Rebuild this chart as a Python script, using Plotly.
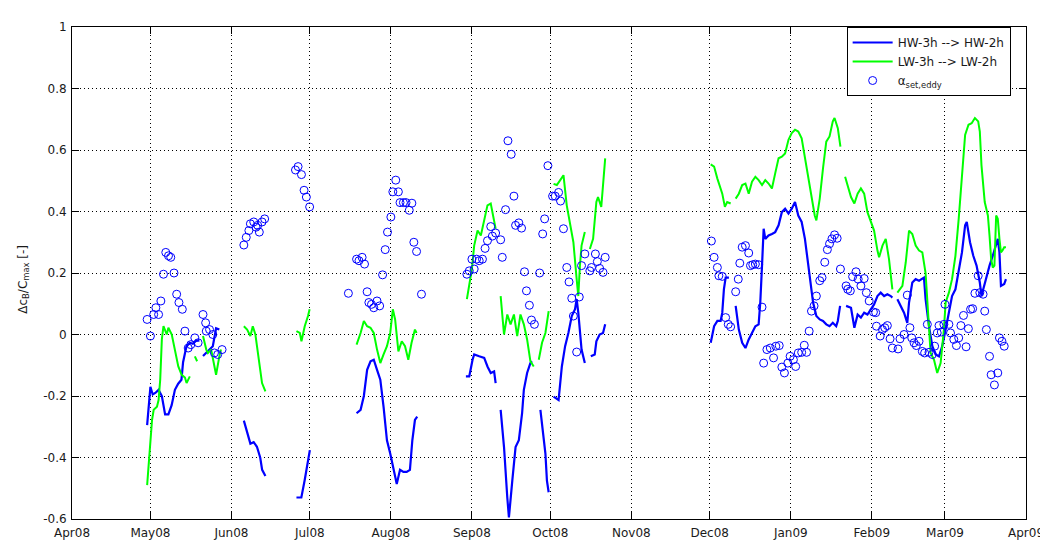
import plotly.graph_objects as go

# ---------------- data ----------------
month_ticks = ["2008-04-01", "2008-05-01", "2008-06-01", "2008-07-01", "2008-08-01", "2008-09-01",
               "2008-10-01", "2008-11-01", "2008-12-01", "2009-01-01", "2009-02-01", "2009-03-01", "2009-04-01"]
month_labels = ["Apr08", "May08", "Jun08", "Jul08", "Aug08", "Sep08", "Oct08", "Nov08",
                "Dec08", "Jan09", "Feb09", "Mar09", "Apr09"]
y_ticks = [-0.6, -0.4, -0.2, 0, 0.2, 0.4, 0.6, 0.8, 1]
y_labels = ["-0.6", "-0.4", "-0.2", "0", "0.2", "0.4", "0.6", "0.8", "1"]

# HW-3h --> HW-2h  (None = gap in the record)
hw_dates = [
    "2008-04-29 18:00", "2008-04-30 09:00", "2008-05-01 00:00", "2008-05-01 21:00", "2008-05-02 21:00", "2008-05-04 03:00", "2008-05-05 09:00", "2008-05-06 15:00", "2008-05-07 21:00", "2008-05-09 03:00", "2008-05-10 09:00", "2008-05-11 15:00", "2008-05-12 21:00", "2008-05-13 12:00", "2008-05-14 18:00", "2008-05-16 00:00", "2008-05-17 06:00", "2008-05-18 12:00", "2008-05-19 18:00", None,
    "2008-05-21 03:00", "2008-05-22 09:00", "2008-05-23 15:00", "2008-05-24 21:00", "2008-05-26 03:00", "2008-05-27 09:00", None,
    "2008-06-05 18:00", "2008-06-07 00:00", "2008-06-08 06:00", "2008-06-09 12:00", "2008-06-10 18:00", "2008-06-12 00:00", "2008-06-12 18:00", "2008-06-14 00:00", None,
    "2008-06-25 21:00", "2008-06-27 18:00", "2008-06-29 00:00", "2008-06-30 06:00", "2008-07-01 00:00", None,
    "2008-07-18 21:00", "2008-07-20 10:00", "2008-07-21 16:00", "2008-07-22 22:00", "2008-07-24 05:00", "2008-07-25 11:00", "2008-07-26 17:00", "2008-07-27 23:00", "2008-07-29 05:00", "2008-07-30 12:00", "2008-07-31 18:00", "2008-08-02 00:00", "2008-08-03 06:00", "2008-08-04 12:00", "2008-08-05 19:00", "2008-08-07 01:00", "2008-08-08 07:00", "2008-08-09 05:00", "2008-08-10 05:00", "2008-08-11 02:00", None,
    "2008-08-29 17:00", "2008-08-31 00:00", "2008-09-01 06:00", "2008-09-01 21:00", "2008-09-03 19:00", "2008-09-05 17:00", "2008-09-06 23:00", "2008-09-08 05:00", "2008-09-09 12:00", "2008-09-10 02:00", None,
    "2008-09-12 00:00", "2008-09-13 07:00", "2008-09-14 13:00", "2008-09-15 04:00", "2008-09-16 11:00", "2008-09-17 17:00", "2008-09-18 23:00", "2008-09-20 05:00", "2008-09-20 21:00", "2008-09-22 03:00", "2008-09-23 09:00", "2008-09-24 00:00", None,
    "2008-09-27 05:00", "2008-09-28 11:00", "2008-09-29 03:00", "2008-09-29 17:00", "2008-09-30 09:00", None,
    "2008-10-02 06:00", "2008-10-04 04:00", "2008-10-05 10:00", "2008-10-06 16:00", "2008-10-07 22:00", "2008-10-09 05:00", "2008-10-10 11:00", "2008-10-11 02:00", "2008-10-11 17:00", "2008-10-12 08:00", "2008-10-12 23:00", "2008-10-14 05:00", None,
    "2008-10-16 12:00", "2008-10-18 00:00", "2008-10-18 15:00", "2008-10-19 21:00", "2008-10-21 04:00", "2008-10-22 00:00", None,
    "2008-12-01 09:00", "2008-12-02 16:00", "2008-12-03 22:00", "2008-12-05 04:00", "2008-12-05 19:00", "2008-12-06 10:00", "2008-12-07 02:00", "2008-12-08 08:00", None,
    "2008-12-10 22:00", "2008-12-12 03:00", "2008-12-13 10:00", "2008-12-14 16:00", "2008-12-15 22:00", "2008-12-17 04:00", "2008-12-18 11:00", "2008-12-19 17:00", "2008-12-20 08:00", "2008-12-21 00:00", "2008-12-21 15:00", "2008-12-22 06:00", "2008-12-23 12:00", "2008-12-24 19:00", "2008-12-26 01:00", "2008-12-27 08:00", "2008-12-28 14:00", "2008-12-29 20:00", "2008-12-31 03:00", "2009-01-01 09:00", "2009-01-02 15:00", "2009-01-03 21:00", "2009-01-05 04:00", "2009-01-06 10:00", "2009-01-07 16:00", "2009-01-08 22:00", "2009-01-09 13:00", "2009-01-10 19:00", "2009-01-12 02:00", "2009-01-13 08:00", "2009-01-14 14:00", "2009-01-15 20:00", "2009-01-17 02:00", "2009-01-18 09:00", "2009-01-19 00:00", "2009-01-19 21:00", None,
    "2009-01-22 04:00", "2009-01-24 01:00", "2009-01-25 08:00", "2009-01-26 14:00", "2009-01-27 20:00", "2009-01-29 02:00", "2009-01-30 08:00", "2009-01-31 14:00", "2009-02-01 21:00", "2009-02-03 04:00", "2009-02-04 10:00", "2009-02-05 17:00", "2009-02-06 23:00", "2009-02-08 06:00", "2009-02-08 21:00", None,
    "2009-02-10 19:00", "2009-02-12 02:00", "2009-02-13 08:00", "2009-02-14 14:00", "2009-02-15 06:00", "2009-02-16 12:00", "2009-02-17 19:00", "2009-02-19 02:00", "2009-02-20 08:00", "2009-02-20 23:00", "2009-02-21 14:00", "2009-02-22 21:00", "2009-02-24 04:00", "2009-02-25 10:00", "2009-02-26 17:00", "2009-02-27 23:00", "2009-03-01 06:00", "2009-03-02 12:00", "2009-03-03 17:00", "2009-03-05 00:00", "2009-03-06 06:00", "2009-03-07 12:00", "2009-03-08 17:00", "2009-03-09 08:00", "2009-03-10 14:00", "2009-03-11 20:00", "2009-03-13 02:00", "2009-03-14 08:00", "2009-03-14 23:00", "2009-03-15 14:00", "2009-03-16 20:00", "2009-03-18 01:00", "2009-03-19 07:00", "2009-03-20 14:00", "2009-03-21 05:00", "2009-03-21 20:00", "2009-03-22 10:00", "2009-03-23 16:00", "2009-03-24 08:00",
]
hw_values = [
    -0.295, -0.235, -0.17, -0.195, -0.19, -0.18, -0.20, -0.26, -0.26, -0.23, -0.18, -0.16, -0.147, -0.09, -0.04, -0.027, -0.03, -0.02, -0.02, None,
    -0.07, -0.06, -0.05, -0.038, 0.02, 0.016, None,
    -0.28, -0.32, -0.355, -0.35, -0.365, -0.40, -0.44, -0.46, None,
    -0.53, -0.53, -0.475, -0.41, -0.376, None,
    -0.256, -0.245, -0.20, -0.115, -0.087, -0.082, -0.115, -0.147, -0.235, -0.344, -0.387, -0.44, -0.486, -0.44, -0.447, -0.447, -0.44, -0.344, -0.278, -0.267, None,
    -0.136, -0.136, -0.082, -0.065, -0.071, -0.076, -0.104, -0.125, -0.12, -0.158, None,
    -0.245, -0.366, -0.53, -0.595, -0.475, -0.366, -0.344, -0.256, -0.18, -0.125, -0.093, -0.087, None,
    -0.245, -0.344, -0.387, -0.475, -0.513, None,
    -0.202, -0.213, -0.104, -0.038, 0.005, 0.06, 0.082, 0.115, 0.071, 0.005, -0.049, -0.093, None,
    -0.071, -0.065, -0.022, 0.0, 0.005, 0.033, None,
    -0.027, 0.027, 0.044, 0.044, 0.071, 0.147, 0.185, 0.185, None,
    0.093, 0.016, -0.027, -0.044, -0.016, 0.005, 0.027, 0.033, 0.104, 0.224, 0.344, 0.311, 0.322, 0.327, 0.333, 0.355, 0.398, 0.409, 0.393, 0.409, 0.431, 0.387, 0.366, 0.311, 0.224, 0.136, 0.104, 0.06, 0.049, 0.044, 0.033, 0.027, 0.038, 0.027, 0.044, 0.093, None,
    0.093, 0.087, 0.022, 0.065, 0.055, 0.071, 0.065, 0.082, 0.098, 0.125, 0.136, 0.125, 0.131, 0.125, 0.12, None,
    0.115, 0.093, 0.071, 0.038, 0.104, 0.169, 0.18, 0.175, 0.18, 0.185, 0.115, 0.027, -0.038, -0.065, -0.071, -0.038, 0.016, 0.071, 0.125, 0.147, 0.202, 0.267, 0.355, 0.366, 0.30, 0.256, 0.224, 0.169, 0.125, 0.147, 0.191, 0.224, 0.256, 0.289, 0.311, 0.267, 0.158, 0.164, 0.18,
]

# LW-3h --> LW-2h
lw_dates = [
    "2008-04-29 18:00", "2008-04-30 09:00", "2008-05-01 00:00", "2008-05-01 15:00", "2008-05-02 06:00", "2008-05-03 12:00", "2008-05-04 03:00", "2008-05-04 18:00", "2008-05-05 09:00", "2008-05-06 00:00", "2008-05-07 06:00", "2008-05-07 21:00", "2008-05-09 04:00", "2008-05-10 10:00", "2008-05-11 16:00", "2008-05-12 23:00", "2008-05-14 05:00", "2008-05-14 20:00", "2008-05-16 02:00", None,
    "2008-05-18 00:00", "2008-05-18 21:00", None,
    "2008-05-21 03:00", "2008-05-22 09:00", "2008-05-23 00:00", "2008-05-24 06:00", "2008-05-25 12:00", "2008-05-26 03:00", "2008-05-27 09:00", "2008-05-28 00:00", None,
    "2008-06-05 18:00", "2008-06-07 00:00", "2008-06-08 06:00", "2008-06-09 04:00", "2008-06-10 04:00", "2008-06-11 10:00", "2008-06-12 17:00", "2008-06-14 00:00", None,
    "2008-06-25 21:00", "2008-06-27 04:00", "2008-06-27 19:00", "2008-06-29 01:00", "2008-06-30 07:00", "2008-06-30 22:00", None,
    "2008-07-18 21:00", "2008-07-20 10:00", "2008-07-21 16:00", "2008-07-22 22:00", "2008-07-24 05:00", "2008-07-25 11:00", "2008-07-26 17:00", "2008-07-27 23:00", "2008-07-29 05:00", "2008-07-30 12:00", "2008-07-31 18:00", "2008-08-01 18:00", "2008-08-02 15:00", "2008-08-03 21:00", "2008-08-05 04:00", "2008-08-06 10:00", "2008-08-07 16:00", "2008-08-08 22:00", "2008-08-10 05:00", "2008-08-10 20:00", None,
    "2008-08-30 02:00", "2008-08-31 00:00", "2008-09-01 00:00", "2008-09-01 21:00", "2008-09-03 04:00", "2008-09-04 10:00", "2008-09-05 17:00", "2008-09-06 23:00", "2008-09-08 05:00", "2008-09-09 12:00", "2008-09-10 02:00", None,
    "2008-09-12 00:00", "2008-09-13 07:00", "2008-09-14 13:00", "2008-09-15 19:00", "2008-09-17 02:00", "2008-09-18 08:00", "2008-09-19 14:00", "2008-09-20 21:00", "2008-09-22 03:00", "2008-09-23 09:00", "2008-09-24 16:00", None,
    "2008-09-26 14:00", "2008-09-27 20:00", "2008-09-29 03:00", "2008-09-30 09:00", None,
    "2008-10-02 06:00", "2008-10-03 12:00", "2008-10-04 19:00", "2008-10-06 01:00", "2008-10-07 07:00", "2008-10-08 13:00", "2008-10-09 20:00", "2008-10-11 02:00", "2008-10-11 17:00", "2008-10-12 08:00", "2008-10-12 23:00", "2008-10-14 05:00", None,
    "2008-10-16 03:00", "2008-10-17 09:00", "2008-10-18 15:00", "2008-10-19 06:00", "2008-10-20 12:00", "2008-10-21 04:00", "2008-10-22 00:00", None,
    "2008-12-01 09:00", "2008-12-02 16:00", "2008-12-03 22:00", "2008-12-05 04:00", "2008-12-05 19:00", "2008-12-06 19:00", "2008-12-07 16:00", "2008-12-09 00:00", None,
    "2008-12-10 22:00", "2008-12-12 03:00", "2008-12-13 10:00", "2008-12-14 16:00", "2008-12-15 22:00", "2008-12-17 04:00", "2008-12-18 11:00", "2008-12-19 17:00", "2008-12-21 00:00", "2008-12-22 06:00", "2008-12-23 12:00", "2008-12-24 19:00", "2008-12-26 01:00", "2008-12-27 08:00", "2008-12-28 14:00", "2008-12-29 20:00", "2008-12-31 03:00", "2009-01-01 09:00", "2009-01-02 15:00", "2009-01-03 21:00", "2009-01-05 04:00", "2009-01-06 10:00", "2009-01-07 16:00", "2009-01-08 22:00", "2009-01-10 04:00", "2009-01-10 19:00", "2009-01-12 02:00", "2009-01-13 08:00", "2009-01-14 14:00", "2009-01-15 20:00", "2009-01-17 02:00", "2009-01-17 18:00", "2009-01-19 00:00", "2009-01-20 00:00", None,
    "2009-01-21 19:00", "2009-01-22 19:00", "2009-01-24 01:00", "2009-01-25 08:00", "2009-01-26 14:00", "2009-01-27 20:00", "2009-01-29 02:00", "2009-01-30 08:00", "2009-01-31 14:00", "2009-02-01 21:00", "2009-02-03 04:00", "2009-02-03 19:00", "2009-02-05 02:00", "2009-02-06 08:00", "2009-02-07 14:00", "2009-02-08 21:00", None,
    "2009-02-10 19:00", "2009-02-12 17:00", "2009-02-14 00:00", "2009-02-15 06:00", "2009-02-16 12:00", "2009-02-17 19:00", "2009-02-19 02:00", "2009-02-20 08:00", "2009-02-21 14:00", "2009-02-22 21:00", "2009-02-23 12:00", "2009-02-24 19:00", "2009-02-26 01:00", "2009-02-27 08:00", "2009-02-28 14:00", "2009-03-01 06:00", "2009-03-02 12:00", "2009-03-03 17:00", "2009-03-05 00:00", "2009-03-06 06:00", "2009-03-07 12:00", "2009-03-08 17:00", "2009-03-10 00:00", "2009-03-11 05:00", "2009-03-12 11:00", "2009-03-13 17:00", "2009-03-14 08:00", "2009-03-14 23:00", "2009-03-16 05:00", "2009-03-17 10:00", "2009-03-18 01:00", "2009-03-18 16:00", "2009-03-19 07:00", "2009-03-19 22:00", "2009-03-20 14:00", "2009-03-21 05:00", "2009-03-21 20:00", "2009-03-22 10:00", "2009-03-23 00:00", "2009-03-23 16:00", "2009-03-24 08:00",
]
lw_values = [
    -0.49, -0.42, -0.344, -0.278, -0.245, -0.235, -0.213, -0.147, -0.016, 0.027, 0.0, 0.022, 0.0, -0.049, -0.104, -0.131, -0.14, -0.158, -0.136, None,
    -0.071, -0.087, None,
    -0.005, -0.049, -0.06, -0.049, -0.104, -0.131, -0.071, -0.049, None,
    0.027, 0.016, -0.005, 0.027, 0.0, -0.082, -0.158, -0.185, None,
    0.011, 0.005, -0.022, 0.027, 0.06, 0.082, None,
    -0.033, 0.005, 0.044, 0.027, 0.022, 0.005, -0.049, -0.093, -0.065, -0.038, 0.005, 0.082, 0.049, -0.055, -0.022, -0.038, -0.082, -0.027, 0.016, 0.005, None,
    0.115, 0.158, 0.213, 0.289, 0.338, 0.322, 0.376, 0.42, 0.426, 0.376, 0.344, None,
    0.125, 0.0, 0.065, 0.033, 0.065, -0.005, 0.065, 0.033, -0.016, -0.087, -0.104, None,
    -0.082, -0.027, 0.005, 0.076, None,
    0.49, 0.486, 0.502, 0.518, 0.42, 0.355, 0.30, 0.18, 0.125, 0.224, 0.289, 0.333, None,
    0.278, 0.311, 0.431, 0.447, 0.415, 0.475, 0.573, None,
    0.553, 0.546, 0.507, 0.475, 0.458, 0.415, 0.431, 0.426, None,
    0.442, 0.458, 0.486, 0.491, 0.458, 0.497, 0.513, 0.502, 0.486, 0.502, 0.491, 0.475, 0.524, 0.573, 0.578, 0.589, 0.633, 0.655, 0.666, 0.66, 0.638, 0.573, 0.518, 0.442, 0.387, 0.371, 0.442, 0.54, 0.627, 0.644, 0.693, 0.704, 0.671, 0.611, None,
    0.513, 0.486, 0.447, 0.426, 0.458, 0.475, 0.458, 0.398, 0.371, 0.338, 0.273, 0.251, 0.289, 0.311, 0.245, 0.147, None,
    0.136, 0.158, 0.235, 0.338, 0.327, 0.289, 0.273, 0.267, 0.20, 0.038, -0.06, -0.082, -0.125, -0.093, 0.016, 0.104, 0.136, 0.18, 0.256, 0.376, 0.518, 0.649, 0.682, 0.687, 0.704, 0.693, 0.66, 0.551, 0.431, 0.387, 0.322, 0.245, 0.218, 0.224, 0.387, 0.376, 0.311, 0.267, 0.273, 0.284, 0.284,
]

# alpha_set,eddy
alpha_dates = [
    "2008-04-29 18:00", "2008-05-01 00:00", "2008-05-02 06:00", "2008-05-03 02:00", "2008-05-04 03:00", "2008-05-05 00:00", "2008-05-06 00:00", "2008-05-06 21:00", "2008-05-07 22:00", "2008-05-08 19:00", "2008-05-10 01:00", "2008-05-11 01:00", "2008-05-11 22:00", "2008-05-13 05:00", "2008-05-14 05:00", "2008-05-15 11:00", "2008-05-16 11:00", "2008-05-18 00:00", "2008-05-19 06:00", "2008-05-21 03:00", "2008-05-22 03:00", "2008-05-22 09:00", "2008-05-23 15:00", "2008-05-24 21:00", "2008-05-25 12:00", "2008-05-26 18:00", "2008-05-28 10:00",
    "2008-06-05 18:00", "2008-06-06 16:00", "2008-06-07 16:00", "2008-06-08 06:00", "2008-06-09 13:00", "2008-06-10 10:00", "2008-06-11 01:00", "2008-06-11 16:00", "2008-06-12 17:00", "2008-06-13 17:00",
    "2008-06-25 12:00", "2008-06-26 12:00", "2008-06-27 19:00", "2008-06-28 19:00", "2008-06-29 16:00", "2008-06-30 22:00",
    "2008-07-15 18:00", "2008-07-18 21:00", "2008-07-19 19:00", "2008-07-21 00:00", "2008-07-21 22:00", "2008-07-22 22:00", "2008-07-23 14:00", "2008-07-24 14:00", "2008-07-25 11:00", "2008-07-26 17:00", "2008-07-27 17:00", "2008-07-28 20:00", "2008-07-29 20:00", "2008-07-30 17:00", "2008-08-01 00:00", "2008-08-01 18:00", "2008-08-02 21:00", "2008-08-03 21:00", "2008-08-04 12:00", "2008-08-05 19:00", "2008-08-06 19:00", "2008-08-08 01:00", "2008-08-09 01:00", "2008-08-09 19:00", "2008-08-10 20:00", "2008-08-12 17:00",
    "2008-08-30 02:00", "2008-08-31 00:00", "2008-09-01 00:00", "2008-09-01 21:00", "2008-09-02 19:00", "2008-09-03 19:00", "2008-09-05 01:00", "2008-09-06 01:00", "2008-09-06 23:00", "2008-09-08 05:00", "2008-09-08 20:00", "2008-09-10 02:00", "2008-09-12 00:00", "2008-09-12 15:00", "2008-09-13 21:00", "2008-09-14 19:00", "2008-09-16 01:00", "2008-09-17 02:00", "2008-09-17 17:00", "2008-09-18 23:00", "2008-09-20 00:00", "2008-09-21 03:00", "2008-09-21 21:00", "2008-09-23 00:00", "2008-09-23 19:00", "2008-09-24 22:00", "2008-09-26 22:00", "2008-09-28 02:00", "2008-09-28 20:00", "2008-09-30 02:00",
    "2008-10-01 21:00", "2008-10-02 21:00", "2008-10-04 04:00", "2008-10-04 22:00", "2008-10-06 01:00", "2008-10-07 07:00", "2008-10-08 04:00", "2008-10-09 05:00", "2008-10-09 20:00", "2008-10-11 02:00", "2008-10-12 02:00", "2008-10-12 23:00", "2008-10-14 05:00", "2008-10-16 03:00", "2008-10-16 18:00", "2008-10-18 06:00", "2008-10-19 00:00", "2008-10-19 21:00", "2008-10-21 04:00", "2008-10-22 00:00",
    "2008-12-01 15:00", "2008-12-02 16:00", "2008-12-03 22:00", "2008-12-04 12:00", "2008-12-05 19:00", "2008-12-07 02:00", "2008-12-08 02:00", "2008-12-09 00:00", "2008-12-10 22:00", "2008-12-11 22:00", "2008-12-12 12:00", "2008-12-13 10:00", "2008-12-14 16:00", "2008-12-15 22:00", "2008-12-16 14:00", "2008-12-17 11:00", "2008-12-18 11:00", "2008-12-19 17:00", "2008-12-21 00:00", "2008-12-21 15:00", "2008-12-22 21:00", "2008-12-24 04:00", "2008-12-25 10:00", "2008-12-26 07:00", "2008-12-27 14:00", "2008-12-28 14:00", "2008-12-29 14:00", "2008-12-30 21:00", "2008-12-31 18:00",
    "2009-01-02 00:00", "2009-01-02 21:00", "2009-01-03 21:00", "2009-01-05 04:00", "2009-01-06 04:00", "2009-01-07 01:00", "2009-01-08 01:00", "2009-01-08 22:00", "2009-01-09 22:00", "2009-01-10 19:00", "2009-01-12 02:00", "2009-01-12 23:00", "2009-01-14 00:00", "2009-01-15 00:00", "2009-01-15 20:00", "2009-01-16 18:00", "2009-01-17 18:00", "2009-01-18 18:00", "2009-01-20 00:00", "2009-01-22 04:00", "2009-01-22 19:00", "2009-01-23 19:00", "2009-01-24 16:00", "2009-01-25 23:00", "2009-01-26 19:00", "2009-01-27 20:00", "2009-01-29 02:00", "2009-01-29 22:00", "2009-01-31 00:00",
    "2009-02-01 15:00", "2009-02-02 12:00", "2009-02-02 19:00", "2009-02-04 05:00", "2009-02-05 02:00", "2009-02-05 23:00", "2009-02-06 23:00", "2009-02-08 00:00", "2009-02-08 21:00", "2009-02-11 01:00", "2009-02-11 19:00", "2009-02-13 08:00", "2009-02-14 14:00", "2009-02-15 14:00", "2009-02-16 07:00", "2009-02-17 04:00", "2009-02-18 01:00", "2009-02-19 02:00", "2009-02-20 08:00", "2009-02-21 05:00", "2009-02-22 06:00", "2009-02-22 21:00", "2009-02-24 04:00", "2009-02-25 01:00", "2009-02-26 01:00", "2009-02-26 17:00", "2009-02-27 14:00", "2009-02-28 14:00",
    "2009-03-01 00:00", "2009-03-02 12:00", "2009-03-03 03:00", "2009-03-04 09:00", "2009-03-05 09:00", "2009-03-06 06:00", "2009-03-07 02:00", "2009-03-08 02:00", "2009-03-09 02:00", "2009-03-09 23:00", "2009-03-10 19:00", "2009-03-11 14:00", "2009-03-12 11:00", "2009-03-13 17:00", "2009-03-14 08:00", "2009-03-15 14:00", "2009-03-16 05:00", "2009-03-16 20:00", "2009-03-18 01:00", "2009-03-18 16:00", "2009-03-19 22:00", "2009-03-21 05:00", "2009-03-21 20:00", "2009-03-22 19:00", "2009-03-23 16:00",
]
alpha_values = [
    0.049, -0.005, 0.065, 0.087, 0.065, 0.109, 0.196, 0.267, 0.256, 0.251, 0.20, 0.131, 0.104, 0.082, 0.011, -0.044, -0.033, -0.011, -0.027, 0.065, 0.038, 0.011, 0.016, 0.0, -0.06, -0.065, -0.049,
    0.291, 0.316, 0.338, 0.36, 0.366, 0.349, 0.355, 0.333, 0.366, 0.376,
    0.535, 0.546, 0.52, 0.469, 0.447, 0.415,
    0.134, 0.245, 0.24, 0.251, 0.229, 0.139, 0.104, 0.098, 0.087, 0.109, 0.093, 0.194, 0.276, 0.333, 0.382, 0.464, 0.502, 0.464, 0.429, 0.429, 0.429, 0.404, 0.427, 0.30, 0.27, 0.131,
    0.196, 0.207, 0.245, 0.213, 0.245, 0.24, 0.245, 0.28, 0.305, 0.351, 0.32, 0.33, 0.308, 0.251, 0.406, 0.63, 0.586, 0.45, 0.355, 0.363, 0.346, 0.204, 0.142, 0.095, 0.047, 0.033, 0.20, 0.327, 0.376, 0.549,
    0.45, 0.45, 0.462, 0.434, 0.344, 0.218, 0.171, 0.118, 0.06, -0.057, 0.122, 0.224, 0.262, 0.207, 0.218, 0.262, 0.237, 0.215, 0.202, 0.251,
    0.304, 0.251, 0.218, 0.191, 0.189, 0.055, 0.033, 0.025, 0.139, 0.18, 0.232, 0.284, 0.289, 0.265, 0.224, 0.227, 0.229, 0.227, 0.089, -0.093, -0.049, -0.044, -0.076, -0.038, -0.036, -0.106, -0.125, -0.093, -0.071,
    -0.082, -0.104, -0.06, -0.058, -0.035, -0.058, 0.011, 0.076, 0.093, 0.125, 0.175, 0.185, 0.235, 0.276, 0.295, 0.311, 0.324, 0.313, 0.213, 0.158, 0.147, 0.142, 0.188, 0.204, 0.18, 0.158, 0.182, 0.136, 0.109,
    0.073, 0.071, 0.027, -0.005, 0.016, 0.022, 0.029, -0.014, -0.044, -0.047, -0.014, 0.0, 0.128, 0.022, -0.011, -0.027, -0.036, -0.022, -0.055, -0.06, 0.033, -0.058, -0.065, -0.038, 0.005, 0.029, 0.008, 0.033,
    0.098, 0.033, 0.005, -0.016, -0.036, -0.011, 0.029, 0.062, -0.04, 0.019, 0.082, 0.084, 0.134, 0.191, 0.136, 0.131, 0.076, 0.016, -0.071, -0.131, -0.164, -0.125, -0.011, -0.022, -0.038,
]

assert len(hw_dates) == len(hw_values)
assert len(lw_dates) == len(lw_values)
assert len(alpha_dates) == len(alpha_values)

# ---------------- figure ----------------
FONT = "DejaVu Sans, Verdana, sans-serif"
TXT = "#1a1a1a"

fig = go.Figure()
fig.add_trace(go.Scatter(x=hw_dates, y=hw_values, mode="lines", name="HW-3h --> HW-2h",
                         line=dict(color="#0000ff", width=2.2), connectgaps=False))
fig.add_trace(go.Scatter(x=lw_dates, y=lw_values, mode="lines", name="LW-3h --> LW-2h",
                         line=dict(color="#00ff00", width=2), connectgaps=False))
fig.add_trace(go.Scatter(x=alpha_dates, y=alpha_values, mode="markers", name="α<sub>set,eddy</sub>",
                         marker=dict(symbol="circle-open", size=8, color="#0000ff", line=dict(width=1))))

axis_common = dict(
    showline=True, linecolor="#000", linewidth=1, mirror="ticks",
    ticks="inside", ticklen=7, tickcolor="#000", tickwidth=1,
    showgrid=True, gridcolor="#000", gridwidth=1, griddash="1px,3px",
    zeroline=False, tickfont=dict(family=FONT, size=12, color=TXT),
)

fig.update_layout(
    width=1048, height=544,
    margin=dict(l=64, r=17, t=16, b=19),
    paper_bgcolor="white", plot_bgcolor="white",
    font=dict(family=FONT, size=12, color=TXT),
    xaxis=dict(range=["2008-04-01", "2009-04-01"], tickmode="array",
               tickvals=month_ticks, ticktext=month_labels, ticklabelstandoff=3,
               ticklabeloverflow="allow", **axis_common),
    yaxis=dict(range=[-0.6, 1], tickmode="array", tickvals=y_ticks, ticktext=y_labels,
               ticklabelstandoff=2, **axis_common),
    legend=dict(x=0.812, y=1.0, xanchor="left", yanchor="top",
                bgcolor="white", bordercolor="#000", borderwidth=1,
                font=dict(family=FONT, size=12, color=TXT), tracegroupgap=0, itemwidth=40),
    showlegend=True,
    annotations=[dict(text="Δc<sub>B</sub>/C<sub>max</sub> [-]", xref="paper", yref="paper",
                      x=-0.05, y=0.487, xanchor="center", yanchor="middle", textangle=-90,
                      showarrow=False, font=dict(family=FONT, size=12, color=TXT))],
)

fig.write_html("out.html")
